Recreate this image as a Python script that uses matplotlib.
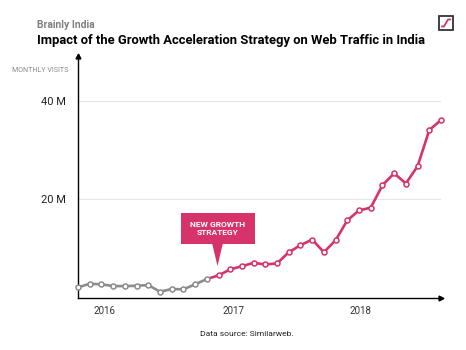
import matplotlib
matplotlib.use("Agg")
import matplotlib.pyplot as plt
from matplotlib.patches import Rectangle, Polygon

plt.rcParams['font.family'] = ['Roboto', 'DejaVu Sans']

# monthly visits (millions), one point per month
visits = [2.16, 2.89, 2.77, 2.42, 2.42, 2.48, 2.63, 1.27, 1.82, 1.76, 2.77, 3.84,
          4.59, 5.80, 6.46, 7.13, 6.81, 7.01, 9.29, 10.71, 11.86, 9.29, 11.72, 15.76,
          17.78, 18.32, 22.89, 25.31, 23.23, 26.73, 34.08, 36.10]
strategy_start = 11          # index where the new strategy line begins
year_labels = ['2016', '2017', '2018']
year_pos = [2.3, 13.25, 24.1]
y_ticks = [20, 40]
y_labels = ['20 M', '40 M']

pink = '#d6336a'
grey = '#8c8c8c'

fig = plt.figure(figsize=(4.66, 3.5), dpi=100)
ax = fig.add_axes([78 / 466, 52 / 350, (441 - 78) / 466, (297 - 55) / 350])

idx = list(range(len(visits)))
old_x, old_y = idx[:strategy_start + 1], visits[:strategy_start + 1]
new_x, new_y = idx[strategy_start:], visits[strategy_start:]

ax.plot(new_x, new_y, color=pink, lw=1.9, zorder=3, clip_on=False)
ax.plot(old_x, old_y, color=grey, lw=1.9, zorder=3, clip_on=False)
ax.plot(old_x, old_y, 'o', ms=3.6, mfc='white', mec=grey, mew=1.1, zorder=4, clip_on=False)
ax.plot(new_x[1:], new_y[1:], 'o', ms=3.6, mfc='white', mec=pink, mew=1.1, zorder=4, clip_on=False)

ax.set_xlim(0, 31)
ax.set_ylim(0, 49.1)

# grid + axes
for s in ['top', 'right']:
    ax.spines[s].set_visible(False)
for s in ['left', 'bottom']:
    ax.spines[s].set_color('black')
    ax.spines[s].set_linewidth(1.0)
ax.set_yticks(y_ticks)
ax.set_yticklabels(y_labels)
ax.set_xticks(year_pos)
ax.set_xticklabels(year_labels)
ax.tick_params(axis='y', length=0, pad=9, labelsize=8, labelcolor='#222222')
ax.tick_params(axis='x', length=0, pad=6, labelsize=7, labelcolor='#333333')
ax.grid(axis='y', color='#e6e6e6', lw=0.8)
ax.set_axisbelow(True)
ax.plot(1, 0, '>', color='black', ms=3.5, transform=ax.transAxes, clip_on=False)
ax.plot(0, 1, '^', color='black', ms=3.5, transform=ax.transAxes, clip_on=False)

# annotation callout
ax.add_patch(Rectangle((181 / 466, (350 - 244) / 350), 74 / 466, 31.5 / 350,
                       transform=fig.transFigure, facecolor=pink, edgecolor='none',
                       zorder=5, clip_on=False))
ax.add_patch(Polygon([(212 / 466, (350 - 243) / 350), (223 / 466, (350 - 243) / 350),
                      (217.5 / 466, (350 - 266) / 350)], closed=True,
                     transform=fig.transFigure, facecolor=pink, edgecolor='none',
                     zorder=5, clip_on=False))
fig.text(218 / 466, (350 - 228.5) / 350, 'NEW GROWTH\nSTRATEGY', ha='center', va='center',
         color='white', fontsize=6, fontweight='bold', linespacing=1.3, zorder=6)

# titles and labels
fig.text(37 / 466, (350 - 25) / 350, 'Brainly India', fontsize=7.5, fontweight='bold',
         color='#808080', va='center')
fig.text(37 / 466, (350 - 40.5) / 350,
         'Impact of the Growth Acceleration Strategy on Web Traffic in India',
         fontsize=9.4, fontweight='bold', color='black', va='center')
fig.text(68 / 466, (350 - 71) / 350, 'MONTHLY VISITS', fontsize=5.1, color='#8a8a8a',
         ha='right', va='center')
fig.text(247 / 466, (350 - 334) / 350, 'Data source: Similarweb.', fontsize=6.1,
         color='#222222', ha='center', va='center')

# logo
fig.add_artist(Rectangle((439 / 466, (350 - 30) / 350), 14 / 466, 14 / 350,
                         transform=fig.transFigure, facecolor='white',
                         edgecolor='#333333', lw=1.3))
fig.add_artist(plt.Line2D([442 / 466, 444 / 466, 448 / 466, 450 / 466],
                          [(350 - 26.5) / 350, (350 - 26.5) / 350,
                           (350 - 19.5) / 350, (350 - 19.5) / 350],
                          transform=fig.transFigure, color=pink, lw=1.3))

fig.savefig('out.png', dpi=100)
